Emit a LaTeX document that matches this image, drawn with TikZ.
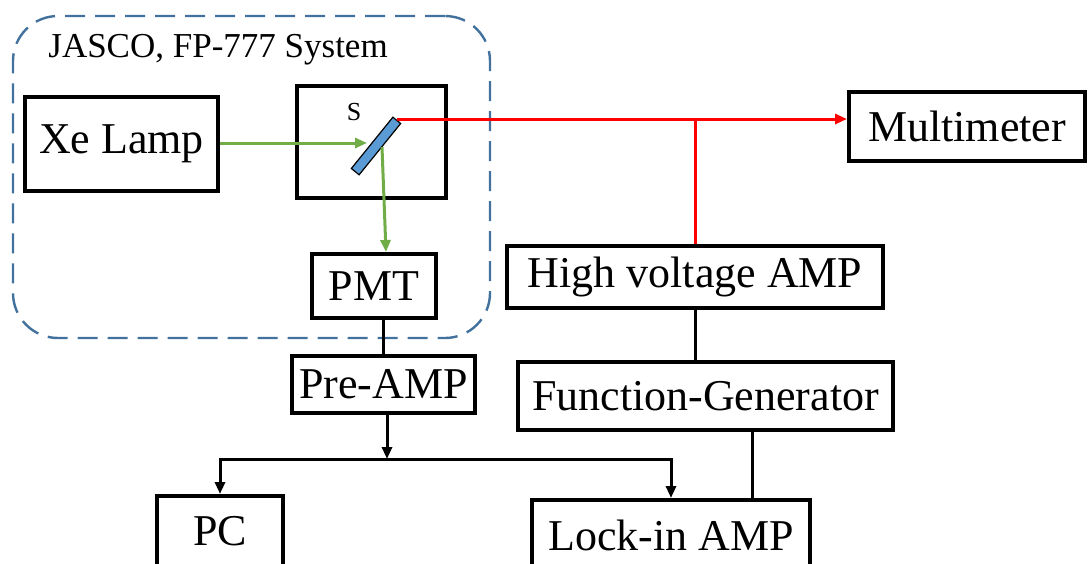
\documentclass[tikz,border=0pt]{standalone}
\usepackage{fontspec}
\setmainfont{Liberation Serif}
\usepackage{tikz}
\usetikzlibrary{arrows.meta,positioning,calc}

\definecolor{frameblue}{HTML}{41719C}
\definecolor{mirrorblue}{HTML}{5B9BD5}
\definecolor{beamgreen}{HTML}{70AD47}

\tikzset{
    block/.style={draw, rectangle, line width=2pt, inner sep=0pt, font=\fontsize{22pt}{26pt}\selectfont},
    wire/.style={line width=1.5pt, -{Triangle[length=6pt,width=5pt]}},
    plain/.style={line width=1.5pt},
    beam/.style={line width=1.5pt, beamgreen, -{Triangle[length=6pt,width=5pt]}}
}

\begin{document}
\begin{tikzpicture}[x=0.5pt, y=-0.5pt]
                \useasboundingbox (0,0) rectangle (1088,563);
                \clip (0,0) rectangle (1088,563);
                % JASCO frame
                \node[draw=frameblue, line width=1.2pt, dash pattern=on 10pt off 5pt, rounded corners=22.5pt, minimum width=238.5pt, minimum height=161pt] (jasco) at (251.5,177) {};
                \node[anchor=base west, inner sep=0pt, font=\fontsize{17.5pt}{20pt}\selectfont] (title) at (48,57) {JASCO, FP-777 System};
                \node[block, minimum width=96.5pt, minimum height=47pt] (lamp) at (121.5,144) {Xe Lamp};
                \node[block, minimum width=74.5pt, minimum height=56pt] (sbox) at (371.5,142) {};
                \node[inner sep=0pt, font=\fontsize{13pt}{15pt}\selectfont] (slabel) at (354,112) {S};
                \node[draw, line width=0.6pt, fill=mirrorblue, rectangle, inner sep=0pt, minimum width=33pt, minimum height=5pt, rotate=51] (mirror) at (376,146) {};
                \node[block, minimum width=62pt, minimum height=32pt] (pmt) at (374,286) {PMT};
                \node[block, minimum width=91.5pt, minimum height=28.5pt] (preamp) at (383.5,384.5) {Pre-AMP};
                \node[block, minimum width=118pt, minimum height=34.5pt] (multi) at (967,126.5) {Multimeter};
                \node[block, minimum width=188pt, minimum height=31pt] (hvamp) at (695,277) {High voltage AMP};
                \node[block, minimum width=187.5pt, minimum height=34pt] (funcgen) at (705.5,396) {Function-Generator};
                \node[block, minimum width=63pt, minimum height=35pt] (pc) at (220,531) {PC};
                \node[block, minimum width=139pt, minimum height=35pt] (lockin) at (671,535) {Lock-in AMP};
                % beam path
                \coordinate (gin) at (367,143);
                \coordinate (gout) at (382,147);
                \coordinate (rout) at (397,119);
                \draw[beam] (lamp.east |- gin) -- (gin);
                \draw[beam] (gout) -- ([xshift=6pt]pmt.north);
                \draw[wire, red] (rout) -- (rout -| multi.west);
                \draw[plain, red] (hvamp.north) -- (hvamp.north |- rout);
                % signal lines
                \coordinate (split) at (387,459);
                \draw[plain] (preamp.north) -- (preamp.north |- pmt.south);
                \draw[plain] (hvamp.south) -- (hvamp.south |- funcgen.north);
                \draw[wire] (preamp.south -| split) -- (split);
                \draw[wire] (split) -| (pc.north);
                \draw[wire] (split) -| (lockin.north);
                \draw[plain] ([xshift=40.5pt]lockin.north) -- ([xshift=40.5pt]lockin.north |- funcgen.south);
            \end{tikzpicture}
\end{document}
